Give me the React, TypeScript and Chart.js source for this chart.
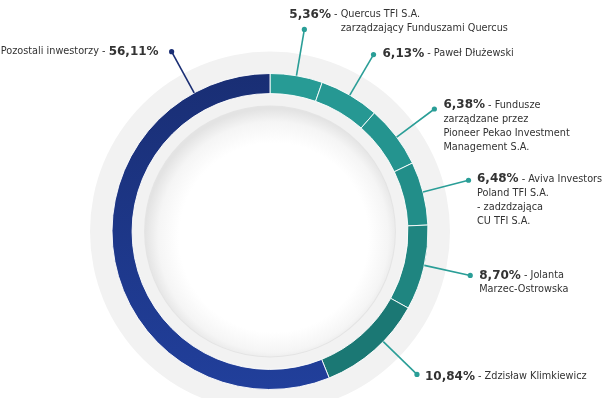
import { useEffect, useRef } from "react";
import { Chart, registerables } from "chart.js";

Chart.register(...registerables);

// ---- data ----
const values = [5.36, 6.13, 6.38, 6.48, 8.7, 10.84, 56.11];
const labelLines: string[][] = [
  ["Quercus TFI S.A.", "zarządzający Funduszami Quercus"],
  ["Paweł Dłużewski"],
  ["Fundusze", "zarządzane przez", "Pioneer Pekao Investment", "Management S.A."],
  ["Aviva Investors", "Poland TFI S.A.", "- zadzdzająca", "CU TFI S.A."],
  ["Jolanta", "Marzec-Ostrowska"],
  ["Zdzisław Klimkiewicz"],
  ["Pozostali inwestorzy"],
];
const categories = labelLines.map((l) => l.join(" "));

// ---- styling / layout ----
const sliceColors = ["#279b95", "#269893", "#24948f", "#228e89", "#1f8580", "#1b7874", "#1d3580"];
const blueTop = "#192e74";
const blueBottom = "#213f9b";
const connectorColors = ["#2a9e97", "#2a9e97", "#2a9e97", "#2a9e97", "#2a9e97", "#2a9e97", "#1a2e74"];
const labelAngleFractions = [0.5, 0.5, 0.52, 0.48, 0.47, 0.39, 0.858];
const labelOffsets = [
  [-15, -15],
  [9, -1],
  [9, -4],
  [8.5, -1],
  [9, 0],
  [8, 2],
  [-13, 0],
];
const hangingIndent = [true, false, false, false, false, false, false];
const leftSide = [false, false, false, false, false, false, true];

const BOLD = "bold 12px 'DejaVu Sans'";
const REG = "10.8px 'DejaVu Sans Condensed'";
const LINE_H = 14;

const fmt = (v: number) => v.toFixed(2).replace(".", ",") + "%";

const decor = {
  id: "decor",
  beforeDatasetsDraw(chart: any) {
    const meta = chart.getDatasetMeta(0);
    const el = meta.data[0];
    if (!el) return;
    const { x, y, outerRadius, innerRadius } = el.getProps(["x", "y", "outerRadius", "innerRadius"], true);
    const ctx = chart.ctx as CanvasRenderingContext2D;
    ctx.save();
    ctx.fillStyle = "#f2f2f2";
    ctx.beginPath();
    ctx.arc(x, y, outerRadius + 22, 0, Math.PI * 2);
    ctx.fill();

    const r = innerRadius - 13;
    ctx.beginPath();
    ctx.arc(x, y, r + 1, 0, Math.PI * 2);
    ctx.fillStyle = "#e4e4e4";
    ctx.fill();
    const g = ctx.createRadialGradient(x + 6, y + 9, 0, x + 3, y + 5, r + 3);
    g.addColorStop(0, "#ffffff");
    g.addColorStop(0.74, "#ffffff");
    g.addColorStop(0.9, "#f5f5f5");
    g.addColorStop(1, "#e3e3e3");
    ctx.beginPath();
    ctx.arc(x, y, r, 0, Math.PI * 2);
    ctx.fillStyle = g;
    ctx.fill();
    ctx.restore();
  },
  afterDatasetsDraw(chart: any) {
    const meta = chart.getDatasetMeta(0);
    const ctx = chart.ctx as CanvasRenderingContext2D;
    ctx.save();
    meta.data.forEach((el: any, i: number) => {
      const { x, y, startAngle, endAngle, outerRadius } = el.getProps(
        ["x", "y", "startAngle", "endAngle", "outerRadius"],
        true
      );
      const a = startAngle + (endAngle - startAngle) * labelAngleFractions[i];
      const x0 = x + Math.cos(a) * outerRadius;
      const y0 = y + Math.sin(a) * outerRadius;
      const x1 = x + Math.cos(a) * (outerRadius + 47);
      const y1 = y + Math.sin(a) * (outerRadius + 47);
      ctx.strokeStyle = connectorColors[i];
      ctx.lineWidth = 1.6;
      ctx.beginPath();
      ctx.moveTo(x0, y0);
      ctx.lineTo(x1, y1);
      ctx.stroke();
      ctx.fillStyle = connectorColors[i];
      ctx.beginPath();
      ctx.arc(x1, y1, 2.6, 0, Math.PI * 2);
      ctx.fill();

      const pct = fmt(values[i]);
      const lines = labelLines[i];
      ctx.textBaseline = "middle";
      ctx.fillStyle = "#333333";
      const [dx, dy] = labelOffsets[i];
      if (leftSide[i]) {
        const txt = lines[0] + " - ";
        ctx.font = BOLD;
        const wb = ctx.measureText(pct).width;
        ctx.font = REG;
        const wr = ctx.measureText(txt).width;
        const right = x1 + dx;
        const ty = y1 + dy;
        ctx.textAlign = "left";
        ctx.font = REG;
        ctx.fillText(txt, right - wb - wr, ty);
        ctx.font = BOLD;
        ctx.fillText(pct, right - wb, ty);
        return;
      }
      const tx = x1 + dx;
      let ty = y1 + dy;
      ctx.textAlign = "left";
      ctx.font = BOLD;
      ctx.fillText(pct, tx, ty);
      const wb = ctx.measureText(pct).width;
      ctx.font = REG;
      const sep = " - ";
      ctx.fillText(sep + lines[0], tx + wb, ty);
      const indent = hangingIndent[i] ? wb + ctx.measureText(sep).width : 0;
      for (let k = 1; k < lines.length; k++) {
        ty += LINE_H;
        ctx.fillText(lines[k], tx + indent, ty);
      }
    });
    ctx.restore();
  },
};

export default function App() {
  const ref = useRef<HTMLCanvasElement | null>(null);
  useEffect(() => {
    document.body.style.margin = "0";
    const canvas = ref.current!;
    const chart = new Chart(canvas, {
      type: "doughnut",
      data: {
        labels: categories,
        datasets: [
          {
            data: values,
            backgroundColor: (c: any) => {
              const i = c.dataIndex;
              if (i === values.length - 1) {
                const area = c.chart.chartArea;
                if (!area) return sliceColors[i];
                const g = c.chart.ctx.createLinearGradient(0, area.top, 0, area.bottom);
                g.addColorStop(0, blueTop);
                g.addColorStop(1, blueBottom);
                return g;
              }
              return sliceColors[i];
            },
            borderColor: "rgba(255,255,255,0.9)",
            borderWidth: 1,
          },
        ],
      },
      options: {
        responsive: false,
        animation: false,
        cutout: "87.3%",
        layout: { padding: { left: 111.5, top: 73, right: 183.5, bottom: 8 } },
        plugins: {
          legend: { display: false },
          tooltip: { enabled: false },
        },
        events: [],
      },
      plugins: [decor],
    });
    return () => chart.destroy();
  }, []);
  return (
    <div style={{ position: "absolute", left: 0, top: 0, width: 612, height: 398, background: "#fff" }}>
      <canvas ref={ref} width={612} height={398} style={{ width: 612, height: 398, display: "block" }} />
    </div>
  );
}
